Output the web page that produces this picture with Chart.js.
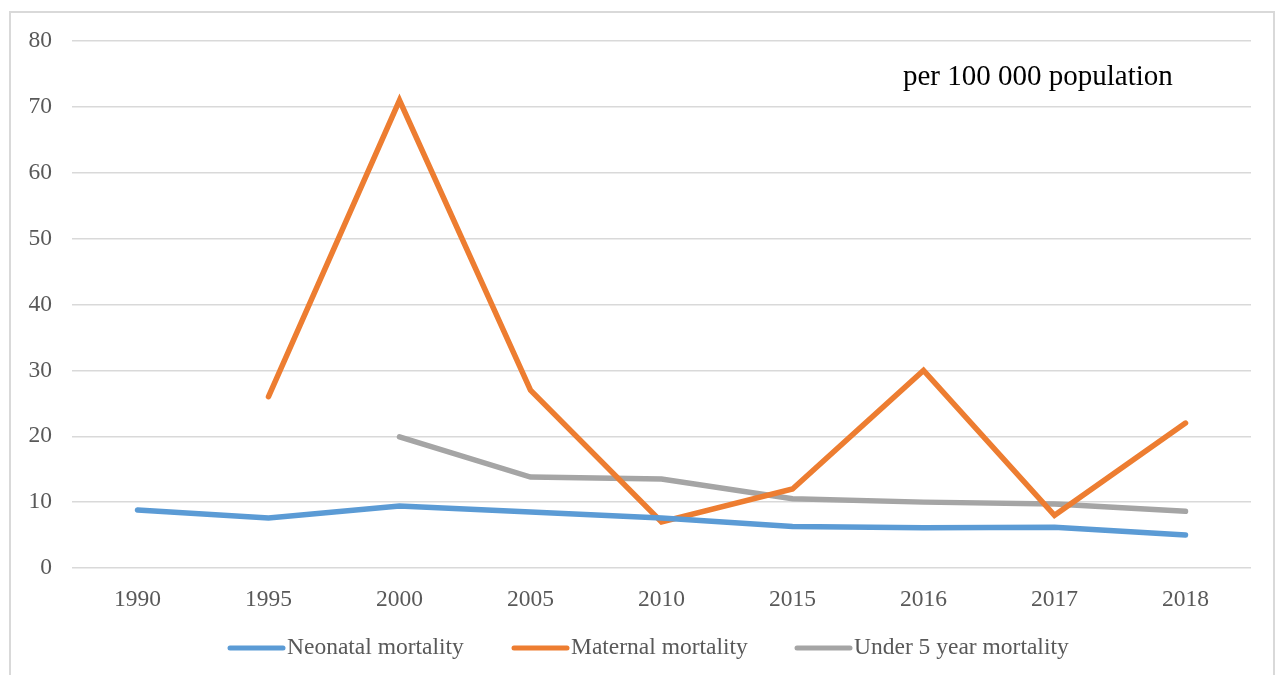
<!DOCTYPE html>
<html>
<head>
<meta charset="utf-8">
<script src="https://cdn.jsdelivr.net/npm/chart.js@4.4.1/dist/chart.umd.min.js"></script>
<style>
  html, body { margin: 0; padding: 0; background: #ffffff; }
  #frame {
    position: absolute; left: 9px; top: 11px; width: 1266px; height: 700px;
    border: 2px solid #d9d9d9; box-sizing: border-box;
  }
  #wrap { position: absolute; left: 0; top: 0; width: 1284px; height: 675px; }
</style>
</head>
<body>
<div id="frame"></div>
<div id="wrap"><canvas id="c" width="1284" height="675"></canvas></div>
<script>
// Years on the x axis
const years = ['1990', '1995', '2000', '2005', '2010', '2015', '2016', '2017', '2018'];

// Mortality series, per 100 000 population
const neonatal = [8.8, 7.6, 9.4, 8.5, 7.6, 6.3, 6.1, 6.2, 5.0];
const maternal = [null, 26, 71, 27, 7, 12, 30, 8, 22];
const underFive = [null, null, 19.9, 13.8, 13.5, 10.5, 10.0, 9.7, 8.6];

const seriesNames = ['Neonatal mortality', 'Maternal mortality', 'Under 5 year mortality'];
const seriesColors = ['#5b9bd5', '#ed7d31', '#a5a5a5'];

const unitNote = 'per 100 000 population';

const serif = '"Liberation Serif", "Times New Roman", serif';

// Legend drawn as short thick strokes with the label right next to them
const legendPlugin = {
  id: 'lineLegend',
  afterDraw(chart) {
    const ctx = chart.ctx;
    const y = 648;
    const starts = [228, 512, 795];
    ctx.save();
    ctx.font = '23.5px ' + serif;
    ctx.textBaseline = 'middle';
    chart.data.datasets.forEach((ds, i) => {
      const x = starts[i];
      ctx.strokeStyle = ds.borderColor;
      ctx.lineWidth = 5;
      ctx.lineCap = 'round';
      ctx.beginPath();
      ctx.moveTo(x + 2, y);
      ctx.lineTo(x + 55, y);
      ctx.stroke();
      ctx.fillStyle = '#595959';
      ctx.fillText(ds.label, x + 59, y);
    });
    ctx.restore();
  }
};

// Unit note in the upper right of the plot
const notePlugin = {
  id: 'unitNote',
  afterDraw(chart) {
    const ctx = chart.ctx;
    ctx.save();
    ctx.font = '29px ' + serif;
    ctx.fillStyle = '#000000';
    ctx.textBaseline = 'middle';
    ctx.fillText(unitNote, 903, 77);
    ctx.restore();
  }
};

const datasets = [neonatal, maternal, underFive].map((vals, i) => ({
  label: seriesNames[i],
  data: vals,
  borderColor: seriesColors[i],
  backgroundColor: seriesColors[i],
  borderWidth: 5.5,
  borderCapStyle: 'round',
  borderJoinStyle: 'miter',
  pointRadius: 0,
  pointHoverRadius: 0,
  tension: 0,
  spanGaps: false
}));

new Chart(document.getElementById('c'), {
  type: 'line',
  data: { labels: years, datasets: datasets },
  options: {
    responsive: false,
    animation: false,
    layout: { padding: { left: 0, top: 41, right: 33, bottom: 0 } },
    plugins: {
      legend: { display: false },
      tooltip: { enabled: false }
    },
    scales: {
      x: {
        offset: true,
        grid: { display: false, drawTicks: false },
        border: { display: false },
        ticks: {
          color: '#595959',
          font: { family: serif, size: 23.5 },
          padding: 18,
          maxRotation: 0
        },
        afterFit(scale) { scale.height = 107; }
      },
      y: {
        min: 0,
        max: 80,
        grid: { color: '#d9d9d9', lineWidth: 1.5, drawTicks: false },
        border: { display: false },
        ticks: {
          stepSize: 10,
          color: '#595959',
          font: { family: serif, size: 23.5 },
          padding: 20
        },
        afterFit(scale) { scale.width = 72; }
      }
    }
  },
  plugins: [legendPlugin, notePlugin]
});
</script>
</body>
</html>
